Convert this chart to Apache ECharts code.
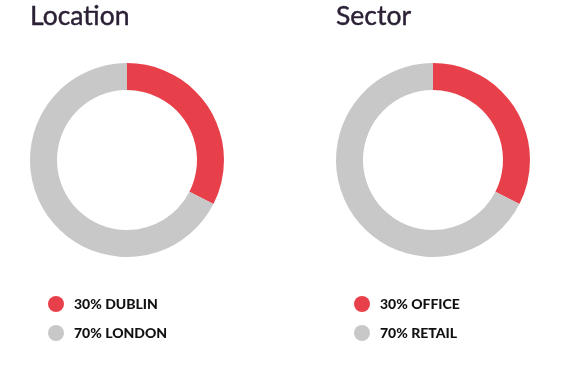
<!DOCTYPE html>
<html><head><meta charset="utf-8">
<script src="https://cdn.jsdelivr.net/npm/echarts@6/dist/echarts.min.js"></script>
<style>html,body{margin:0;padding:0;background:#fff}#c{width:562px;height:390px}</style>
</head><body><div id="c"></div>
<script>
const titles = ['Location', 'Sector'];
const locationCats = ['DUBLIN', 'LONDON'];
const locationVals = [32.5, 67.5];
const locationPct = ['30%', '70%'];
const sectorCats = ['OFFICE', 'RETAIL'];
const sectorVals = [32.5, 67.5];
const sectorPct = ['30%', '70%'];
const colors = ['#E8404A', '#C8C8C8'];

const chart = echarts.init(document.getElementById('c'));
const centersX = [127, 433];
const groups = [
  {cats: locationCats, vals: locationVals, pct: locationPct},
  {cats: sectorCats, vals: sectorVals, pct: sectorPct}
];
chart.setOption({
  animation: false,
  color: colors,
  title: titles.map((t, i) => ({
    text: t, left: [30, 336][i], top: 3, padding: 0,
    textStyle: {fontFamily: 'Lato', fontWeight: 'normal', fontSize: 26.5, color: '#2B2035', textBorderColor: '#2B2035', textBorderWidth: 0.4}
  })),
  legend: groups.map((g, i) => ({
    data: g.cats,
    orient: 'vertical',
    left: [48, 354][i], top: 296, padding: 0,
    icon: 'circle', itemWidth: 16, itemHeight: 16, itemGap: 13,
    formatter: name => g.pct[g.cats.indexOf(name)] + ' ' + name,
    textStyle: {fontFamily: 'Lato', fontWeight: 900, fontSize: 14, color: '#111', padding: [0, 0, 0, 5]}
  })),
  series: groups.map((g, i) => ({
    type: 'pie',
    center: [centersX[i], 160],
    radius: [70, 97],
    startAngle: 90,
    clockwise: true,
    label: {show: false},
    labelLine: {show: false},
    silent: true,
    itemStyle: {borderWidth: 0},
    data: g.cats.map((c, j) => ({name: c, value: g.vals[j]}))
  }))
});
</script></body></html>
